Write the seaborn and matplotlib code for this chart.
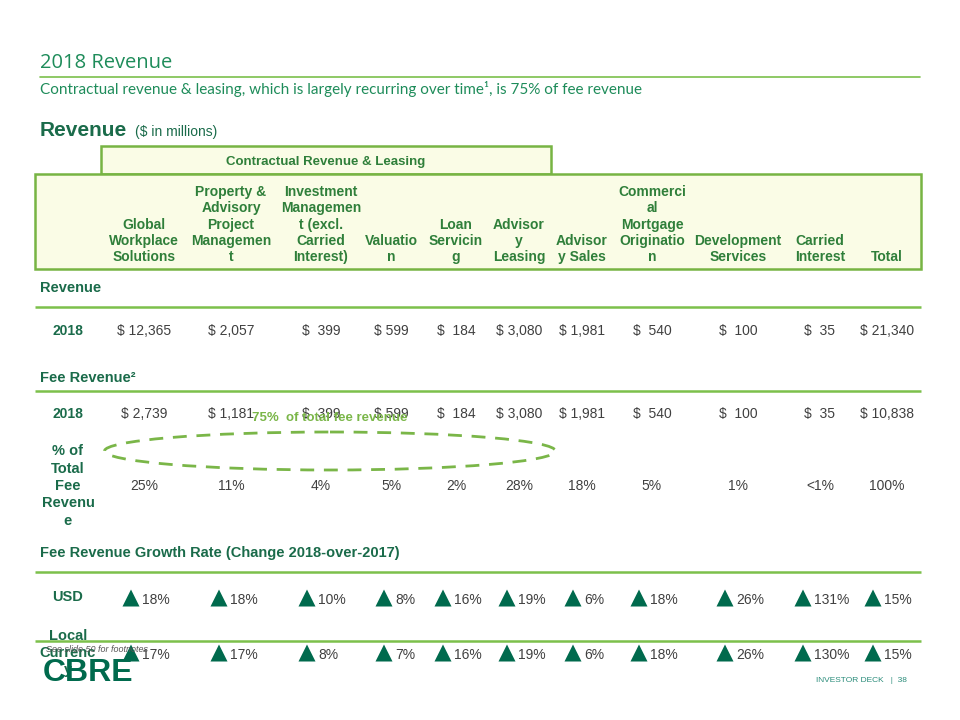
import matplotlib
matplotlib.use("Agg")
import matplotlib.pyplot as plt
from matplotlib.patches import Rectangle, Ellipse
import seaborn as sns
import pandas as pd

# ---- data ----
columns = [
    "Global\nWorkplace\nSolutions",
    "Property &\nAdvisory\nProject\nManagemen\nt",
    "Investment\nManagemen\nt (excl.\nCarried\nInterest)",
    "Valuatio\nn",
    "Loan\nServicin\ng",
    "Advisor\ny\nLeasing",
    "Advisor\ny Sales",
    "Commerci\nal\nMortgage\nOriginatio\nn",
    "Development\nServices",
    "Carried\nInterest",
    "Total",
]
revenue_2018 = [12365, 2057, 399, 599, 184, 3080, 1981, 540, 100, 35, 21340]
fee_revenue_2018 = [2739, 1181, 399, 599, 184, 3080, 1981, 540, 100, 35, 10838]
fee_share = ["25%", "11%", "4%", "5%", "2%", "28%", "18%", "5%", "1%", "<1%", "100%"]
growth_usd = [18, 18, 10, 8, 16, 19, 6, 18, 26, 131, 15]
growth_local = [17, 17, 8, 7, 16, 19, 6, 18, 26, 130, 15]

# ---- layout (pixel coordinates on a 960x720 slide) ----
col_x = [144, 231, 321, 391, 456, 519, 582, 652, 738, 820, 887]
tri_x = [131, 219, 307, 384, 443, 507, 573, 639, 725, 803, 873]
label_x = 68
y_rev, y_fee, y_share, y_usd, y_local = 331, 414, 486, 600, 655

TITLE = "#1E8C5A"
DARK = "#1A6B4A"
HEAD = "#2F7F3A"
LINE = "#7CC04B"
VAL = "#404040"
TRI = "#006A4D"


def money(v):
    # the slide pads short amounts after the dollar sign
    return f"$ {v:,}" if v >= 1000 or v == 599 else f"$  {v:,}"


sns.set_theme(style="white")
plt.rcParams["font.family"] = ["Liberation Sans", "DejaVu Sans"]

fig = plt.figure(figsize=(9.6, 7.2), dpi=100)
ax = fig.add_axes([0, 0, 1, 1])

# title block
ax.text(40, 63, "2018 Revenue", fontsize=14.5, color=TITLE, family=["Open Sans", "DejaVu Sans"],
        va="center", ha="left")
ax.plot([40, 920], [77, 77], color=LINE, lw=1.2)
ax.text(40, 89, "Contractual revenue & leasing, which is largely recurring over time\u00b9, is 75% of fee revenue",
        fontsize=11, color=TITLE, family=["Lato", "DejaVu Sans"], va="center", ha="left")
ax.text(40, 131, "Revenue", fontsize=15, fontweight="bold", color=DARK, va="center", ha="left")
ax.text(135, 132, "($ in millions)", fontsize=10, color=DARK, va="center", ha="left")

# header boxes
ax.add_patch(Rectangle((101, 146), 450, 28, facecolor="#FAFCE6", edgecolor="#77B443", lw=1.8))
ax.add_patch(Rectangle((35, 174), 886, 95, facecolor="#FAFCE6", edgecolor="#77B443", lw=1.8))
ax.text(326, 162, "Contractual Revenue & Leasing", fontsize=9.5, fontweight="bold", color=HEAD,
        ha="center", va="center")
for x, name in zip(col_x, columns):
    ax.text(x, 261, name, fontsize=10, fontweight="bold", color=HEAD, ha="center",
            va="baseline", multialignment="center", linespacing=1.2)

# section labels and separators
for y, txt in [(288, "Revenue"), (378, "Fee Revenue\u00b2"),
               (553, "Fee Revenue Growth Rate (Change 2018-over-2017)")]:
    ax.text(40, y, txt, fontsize=10.5, fontweight="bold", color=DARK, ha="left", va="center")
for y in [307, 391, 572, 641]:
    ax.plot([35, 921], [y, y], color=LINE, lw=1.8, solid_capstyle="butt")

# row labels
ax.text(label_x, y_rev, "2018", fontsize=10, fontweight="bold", color=DARK, ha="center", va="center")
ax.text(label_x, y_fee, "2018", fontsize=10, fontweight="bold", color=DARK, ha="center", va="center")
ax.text(label_x, y_share, "% of\nTotal\nFee\nRevenu\ne", fontsize=10.5, fontweight="bold", color=DARK,
        ha="center", va="center", linespacing=1.3)
ax.text(label_x, 597, "USD", fontsize=10.5, fontweight="bold", color=DARK, ha="center", va="center")
ax.text(label_x, 653, "Local\nCurrenc\ny", fontsize=10.5, fontweight="bold", color=DARK,
        ha="center", va="center", linespacing=1.3)

# values
for x, v in zip(col_x, revenue_2018):
    ax.text(x, y_rev, money(v), fontsize=10, color=VAL, ha="center", va="center")
for x, v in zip(col_x, fee_revenue_2018):
    ax.text(x, y_fee, money(v), fontsize=10, color=VAL, ha="center", va="center")
for x, v in zip(col_x, fee_share):
    ax.text(x, y_share, v, fontsize=10, color=VAL, ha="center", va="center")

# growth rows with up-triangles
tri = pd.DataFrame({
    "x": tri_x + tri_x,
    "y": [y_usd - 2] * len(tri_x) + [y_local - 2] * len(tri_x),
})
sns.scatterplot(data=tri, x="x", y="y", marker="^", s=150, color=TRI, edgecolor="none", ax=ax, legend=False)
for x, v in zip(tri_x, growth_usd):
    ax.text(x + 11, y_usd, f"{v}%", fontsize=10, color=VAL, ha="left", va="center")
for x, v in zip(tri_x, growth_local):
    ax.text(x + 11, y_local, f"{v}%", fontsize=10, color=VAL, ha="left", va="center")

# 75% callout
ax.add_patch(Ellipse((330, 451), 451, 38, fill=False, edgecolor="#7AB648", lw=2, linestyle=(0, (5, 3.5))))
ax.text(330, 418, "75%  of total fee revenue", fontsize=9.5, fontweight="bold", color="#7AB648",
        ha="center", va="center")

# footer
ax.text(46, 649, "See slide 50 for footnotes", fontsize=6.5, style="italic", color="#555555",
        ha="left", va="center")
ax.text(43, 673, "CBRE", fontsize=23, fontweight="bold", color=TRI, ha="left", va="center")
ax.text(907, 681, "INVESTOR DECK   |  38", fontsize=6, color="#2A8C7A", ha="right", va="center")

ax.set_xlim(0, 960)
ax.set_ylim(720, 0)
ax.axis("off")

fig.savefig("out.png", dpi=100)
